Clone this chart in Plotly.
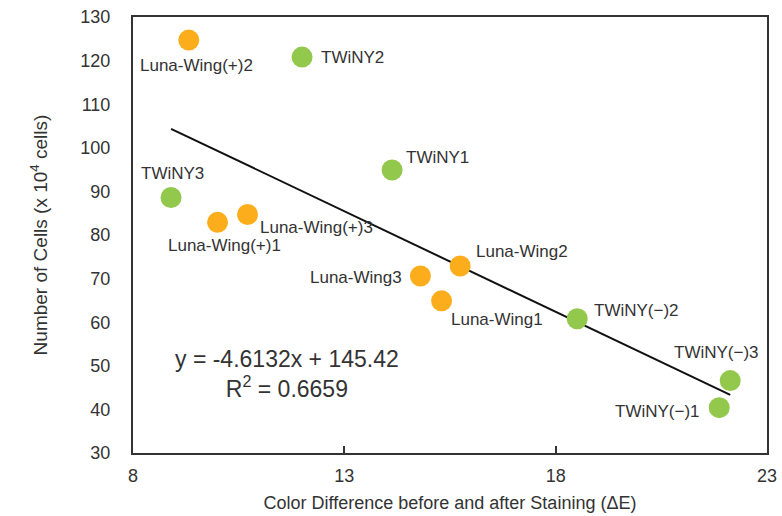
import plotly.graph_objects as go

# ---- data ----
labels = ["Luna-Wing(+)2", "TWiNY2", "TWiNY3", "Luna-Wing(+)1", "Luna-Wing(+)3",
          "TWiNY1", "Luna-Wing2", "Luna-Wing3", "Luna-Wing1", "TWiNY(\u2212)2",
          "TWiNY(\u2212)3", "TWiNY(\u2212)1"]
delta_e = [9.32, 12.0, 8.9, 10.0, 10.71, 14.13, 15.74, 14.8, 15.3, 18.51, 22.13, 21.87]
cells = [124.7, 120.8, 88.6, 82.9, 84.7, 94.9, 72.9, 70.6, 64.9, 60.8, 46.6, 40.4]
groups = ["luna", "twiny", "twiny", "luna", "luna", "twiny", "luna", "luna", "luna",
          "twiny", "twiny", "twiny"]
slope = -4.6132
intercept = 145.42
r2 = 0.6659
x_ticks = [8, 13, 18, 23]
y_ticks = [30, 40, 50, 60, 70, 80, 90, 100, 110, 120, 130]

# ---- styles ----
colors = {"luna": "#FBAD1C", "twiny": "#92C84C"}
# label placement: (xanchor, xshift, yshift)
label_pos = [("center", 8, -25), ("left", 17, 0), ("center", 1, 24), ("center", 7, -23),
             ("left", 10, -13), ("left", 12, 13), ("left", 14, 14), ("right", -16, -2),
             ("left", 7, -19), ("left", 15, 8), ("center", -14, 28), ("right", -17, -4)]

FONT = "Liberation Sans"
TXT = "#333333"

fig = go.Figure()

# trendline
xmin, xmax = min(delta_e), max(delta_e)
fig.add_trace(go.Scatter(x=[xmin, xmax], y=[slope * xmin + intercept, slope * xmax + intercept],
                         mode="lines", line=dict(color="#111111", width=2),
                         hoverinfo="skip", showlegend=False))

for g in ["luna", "twiny"]:
    xs = [x for x, gg in zip(delta_e, groups) if gg == g]
    ys = [y for y, gg in zip(cells, groups) if gg == g]
    fig.add_trace(go.Scatter(x=xs, y=ys, mode="markers",
                             marker=dict(size=21, color=colors[g], line=dict(width=0)),
                             showlegend=False))

for lab, x, y, (xa, xs, ys) in zip(labels, delta_e, cells, label_pos):
    fig.add_annotation(x=x, y=y, text=lab, showarrow=False, xanchor=xa, yanchor="middle",
                       xshift=xs, yshift=ys, font=dict(family=FONT, size=17, color=TXT))

fig.add_annotation(x=11.65, y=48.2, xref="x", yref="y", showarrow=False, align="center",
                   text=f"y = {slope}x + {intercept}<br>R<sup>2</sup> = {r2}",
                   font=dict(family=FONT, size=23, color=TXT))

fig.update_layout(
    width=782, height=516,
    margin=dict(l=133, r=15, t=17, b=63),
    plot_bgcolor="white", paper_bgcolor="white",
    font=dict(family=FONT, color=TXT),
)
fig.update_xaxes(range=[8, 23], tickvals=x_ticks, ticks="inside", ticklen=7, tickwidth=1.5,
                 tickcolor="#333333", showline=True, linecolor="#333333", linewidth=2,
                 mirror=True, showgrid=False, zeroline=False, automargin=False,
                 tickfont=dict(size=18, color=TXT), ticklabelstandoff=5,
                 title=dict(text="Color Difference before and after Staining (\u0394E)",
                            font=dict(size=18, color=TXT), standoff=12))
fig.update_yaxes(range=[30, 130], tickvals=y_ticks, ticks="", showline=True,
                 linecolor="#333333", linewidth=2, mirror=True, showgrid=False,
                 zeroline=False, automargin=False, tickfont=dict(size=18, color=TXT),
                 ticklabelstandoff=17,
                 title=dict(text="Number of Cells (x 10<sup>4</sup> cells)",
                            font=dict(size=19, color=TXT), standoff=28))

fig.write_html("out.html")
